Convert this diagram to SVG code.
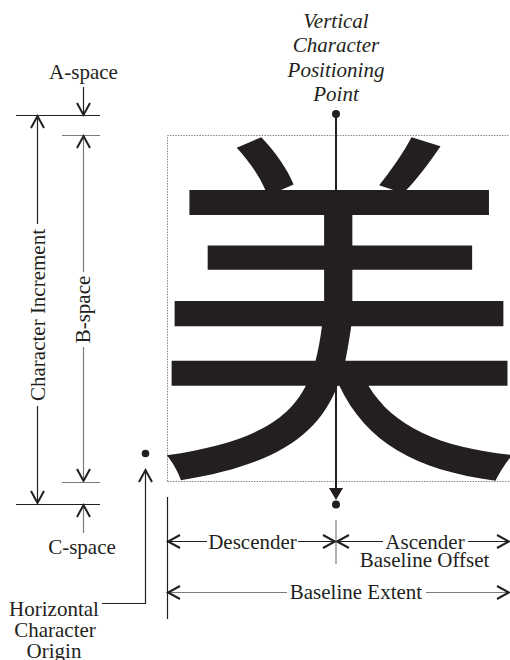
<svg xmlns="http://www.w3.org/2000/svg" width="510" height="660" viewBox="0 0 510 660">
<style>
  .t { font-family: "Liberation Serif", "Times New Roman", serif; font-size: 21px; fill: #231f20; }
  .ti { font-family: "Liberation Serif", "Times New Roman", serif; font-size: 21px; font-style: italic; fill: #231f20; }
  .k { stroke: #231f20; stroke-width: 1.2; fill: none; }
  .g { stroke: #7a7a7a; stroke-width: 1.2; fill: none; }
  .box { stroke: #8a8a8a; stroke-width: 1; fill: none; stroke-dasharray: 1.5 1.2; }
  .arr { marker-end: url(#chev); }
  .glyph { font-family: "Noto Sans CJK JP", "Noto Sans CJK SC", sans-serif; fill: #231f20; }
</style>
<defs>
  <marker id="chev" markerUnits="userSpaceOnUse" markerWidth="30" markerHeight="30" refX="0" refY="0" orient="auto-start-reverse" style="overflow:visible">
    <path d="M-12,-6.5 L0,0 L-12,6.5" fill="none" stroke="#231f20" stroke-width="2"/>
  </marker>
</defs>

<g id="em-box">
  <path class="box" d="M167.5,481.5 V135.5 H512 M167.5,481.5 H512"/>
</g>

<g id="glyph">
  <text class="glyph" x="153" y="450.5" font-size="372">美</text>
</g>

<g id="connectors">
  <!-- A-space -->
  <line class="k arr" x1="83.5" y1="87" x2="83.5" y2="115"/>
  <line class="k" x1="16" y1="115.5" x2="100" y2="115.5"/>
  <line class="g" x1="62" y1="135.5" x2="100" y2="135.5"/>
  <!-- Character Increment -->
  <line class="k arr" x1="37.5" y1="224" x2="37.5" y2="116"/>
  <line class="k arr" x1="37.5" y1="406" x2="37.5" y2="503"/>
  <!-- B-space -->
  <line class="g arr" x1="83.5" y1="272" x2="83.5" y2="136"/>
  <line class="g arr" x1="83.5" y1="347" x2="83.5" y2="481"/>
  <line class="g" x1="62" y1="482.5" x2="100" y2="482.5"/>
  <line class="k" x1="16" y1="504.5" x2="100" y2="504.5"/>
  <!-- C-space -->
  <line class="g arr" x1="83.5" y1="533" x2="83.5" y2="505"/>
  <!-- Horizontal character origin -->
  <polyline class="k arr" points="102,603.5 145.5,603.5 145.5,470"/>
  <circle cx="145.5" cy="453.5" r="3.8" fill="#231f20"/>
  <!-- Vertical character positioning point -->
  <line stroke="#231f20" stroke-width="2" x1="336" y1="114" x2="336" y2="490"/>
  <circle cx="336" cy="114" r="4" fill="#231f20"/>
  <polygon points="329,488 343,488 336,500" fill="#231f20"/>
  <circle cx="336" cy="504.5" r="4" fill="#231f20"/>
  <!-- Baseline extent left vertical -->
  <line class="k" x1="167.5" y1="497" x2="167.5" y2="619"/>
  <!-- tick -->
  <line class="g" x1="336" y1="520" x2="336" y2="564"/>
  <!-- Descender -->
  <line class="k arr" x1="207" y1="541.5" x2="168" y2="541.5"/>
  <line class="k arr" x1="298" y1="541.5" x2="335" y2="541.5"/>
  <!-- Ascender -->
  <line class="k arr" x1="383" y1="541.5" x2="337" y2="541.5"/>
  <line class="k arr" x1="468" y1="541.5" x2="509" y2="541.5"/>
  <!-- Baseline Extent -->
  <line class="g arr" x1="287" y1="592.5" x2="168" y2="592.5"/>
  <line class="g arr" x1="426" y1="592.5" x2="509" y2="592.5"/>
</g>

<g id="labels">
  <text class="t" x="83.5" y="78.5" text-anchor="middle">A-space</text>
  <text class="t" transform="translate(44.5,315) rotate(-90)" text-anchor="middle">Character Increment</text>
  <text class="t" transform="translate(89.5,309.5) rotate(-90)" text-anchor="middle">B-space</text>
  <text class="t" x="82" y="553.5" text-anchor="middle">C-space</text>
  <text class="t" x="54" y="615.5" text-anchor="middle">Horizontal</text>
  <text class="t" x="55" y="637" text-anchor="middle">Character</text>
  <text class="t" x="54" y="658" text-anchor="middle">Origin</text>
  <text class="ti" x="336" y="27.5" text-anchor="middle">Vertical</text>
  <text class="ti" x="336" y="52" text-anchor="middle">Character</text>
  <text class="ti" x="336" y="76.5" text-anchor="middle">Positioning</text>
  <text class="ti" x="336" y="101" text-anchor="middle">Point</text>
  <text class="t" x="252.5" y="549" text-anchor="middle">Descender</text>
  <text class="t" x="425" y="549" text-anchor="middle">Ascender</text>
  <text class="t" x="424.5" y="567" text-anchor="middle">Baseline Offset</text>
  <text class="t" x="356" y="598.5" text-anchor="middle">Baseline Extent</text>
</g>
</svg>
